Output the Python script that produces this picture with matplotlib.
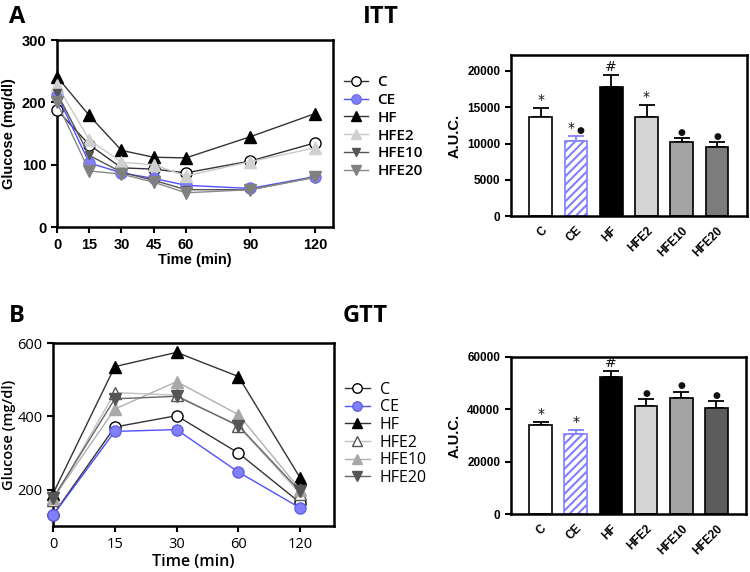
import matplotlib
matplotlib.use("Agg")
from matplotlib import pyplot as plt
import numpy as np

# ITT curves
itt_time = [0, 15, 30, 45, 60, 90, 120]
itt_c = [188, 132, 95, 93, 87, 106, 135]
itt_ce = [212, 103, 87, 78, 67, 62, 81]
itt_hf = [241, 179, 123, 112, 111, 145, 182]
itt_hfe2 = [228, 140, 104, 100, 82, 105, 127]
itt_hfe10 = [215, 115, 88, 75, 60, 60, 80]
itt_hfe20 = [200, 90, 85, 72, 55, 60, 80]

# GTT curves
gtt_time = ['0', '15', '30', '60', '120']
gtt_c = [131, 371, 402, 300, 164]
gtt_ce = [130, 359, 364, 248, 150]
gtt_hf = [189, 536, 575, 509, 232]
gtt_hfe2 = [171, 465, 458, 373, 189]
gtt_hfe10 = [176, 420, 495, 405, 200]
gtt_hfe20 = [176, 448, 455, 375, 195]

# AUC bars
groups = ['C', 'CE', 'HF', 'HFE2', 'HFE10', 'HFE20']
itt_auc = [13700, 10390, 17840, 13700, 10160, 9470]
itt_err = [1240, 690, 1600, 1560, 640, 740]
itt_marks = ['*', '*\u25CF', '#', '*', '\u25CF', '\u25CF']
gtt_auc = [34120, 30440, 52390, 41230, 44150, 40470]
gtt_err = [1020, 1650, 2280, 2790, 2660, 2790]
gtt_marks = ['*', '*', '#', '\u25CF', '\u25CF', '\u25CF']

BLUE = '#8080ff'
BOLD = dict(family='Liberation Sans', weight='bold')

fig = plt.figure(figsize=(7.5, 5.72), dpi=100)


def style_axes(ax, size=10, bold=True):
    for s in ax.spines.values():
        s.set_linewidth(1.8)
    ax.tick_params(width=1.5, length=4, labelsize=size)
    for lab in ax.get_xticklabels() + ax.get_yticklabels():
        lab.set_family('Liberation Sans')
        if bold:
            lab.set_weight('bold')


def line_panel(ax, x, series, styles):
    for name, y in series:
        st = styles[name]
        ax.plot(x, y, color=st['lc'], lw=1.0, marker=st['m'], ms=st['ms'],
                mfc=st['fc'], mec=st['ec'], mew=1.0, label=name, clip_on=False, zorder=3)


# ---- ITT line chart
ax1 = fig.add_axes([0.076, 0.603, 0.368, 0.327])
itt_styles = {
    'C': dict(lc='#333333', m='o', ms=8, fc='white', ec='black'),
    'CE': dict(lc='#5050ff', m='o', ms=8, fc=BLUE, ec='#7070ee'),
    'HF': dict(lc='#333333', m='^', ms=8, fc='black', ec='black'),
    'HFE2': dict(lc='#c8c8c8', m='^', ms=8, fc='#d0d0d0', ec='#d0d0d0'),
    'HFE10': dict(lc='#555555', m='v', ms=6, fc='#555555', ec='#555555'),
    'HFE20': dict(lc='#888888', m='v', ms=8, fc='#808080', ec='#808080'),
}
line_panel(ax1, itt_time,
           [('C', itt_c), ('CE', itt_ce), ('HF', itt_hf), ('HFE2', itt_hfe2),
            ('HFE10', itt_hfe10), ('HFE20', itt_hfe20)], itt_styles)
ax1.set_xlim(0, 128.4)
ax1.set_ylim(0, 300)
ax1.set_xticks(itt_time)
ax1.set_yticks([0, 100, 200, 300])
style_axes(ax1, 10.5)
ax1.set_xlabel('Time (min)', fontsize=10.5, labelpad=1, **BOLD)
ax1.set_ylabel('Glucose (mg/dl)', fontsize=10.5, labelpad=4, **BOLD)
ax1.legend(loc='upper left', bbox_to_anchor=(1.0, 0.87), frameon=False,
           prop=dict(family='Open Sans', weight='semibold', size=11), markerscale=0.85,
           handlelength=1.6, handletextpad=0.6, labelspacing=0.25, borderaxespad=0.3)

# ---- GTT line chart
ax3 = fig.add_axes([0.0707, 0.080, 0.374, 0.320])
gtt_styles = {
    'C': dict(lc='#333333', m='o', ms=8, fc='white', ec='black'),
    'CE': dict(lc='#5050ff', m='o', ms=8, fc=BLUE, ec='#6060dd'),
    'HF': dict(lc='#333333', m='^', ms=8, fc='black', ec='black'),
    'HFE2': dict(lc='#c0c0c0', m='^', ms=8, fc='white', ec='#555555'),
    'HFE10': dict(lc='#b0b0b0', m='^', ms=8, fc='#a8a8a8', ec='#a8a8a8'),
    'HFE20': dict(lc='#666666', m='v', ms=8, fc='#555555', ec='#555555'),
}
gx = np.arange(len(gtt_time))
line_panel(ax3, gx,
           [('C', gtt_c), ('CE', gtt_ce), ('HF', gtt_hf), ('HFE2', gtt_hfe2),
            ('HFE10', gtt_hfe10), ('HFE20', gtt_hfe20)], gtt_styles)
ax3.set_xlim(0, 4.54)
ax3.set_ylim(100, 600)
ax3.set_xticks(gx)
ax3.set_xticklabels(gtt_time)
ax3.set_yticks([200, 400, 600])
style_axes(ax3, 10.5, bold=False)
for lab in ax3.get_xticklabels() + ax3.get_yticklabels():
    lab.set_family('Open Sans')
ax3.set_xlabel('Time (min)', fontsize=11.5, labelpad=2, family='Open Sans', weight='semibold')
ax3.set_ylabel('Glucose (mg/dl)', fontsize=10.5, labelpad=1, family='Open Sans', weight='semibold')
ax3.legend(loc='upper left', bbox_to_anchor=(1.0, 0.85), frameon=False,
           prop=dict(family='Open Sans', size=11.5), markerscale=0.85,
           handlelength=1.6, handletextpad=0.6, labelspacing=0.1, borderaxespad=0.3)


# ---- AUC bars
def put_mark(ax, x, y, mark):
    # '*' and '#' drawn larger than the small filled dot
    parts = list(mark)
    offs = [0.0] if len(parts) == 1 else [-0.13, 0.13]
    for p, dx in zip(parts, offs):
        size = 6.5 if p == '\u25CF' else 10
        ax.text(x + dx, y, p, ha='center', va='bottom', fontsize=size,
                family='DejaVu Sans', color='#111111')


def bar_panel(ax, vals, errs, marks, colors, ymax, yticks, off):
    x = np.arange(len(groups))
    for i in range(len(groups)):
        if groups[i] == 'CE':
            ax.bar(x[i], vals[i], 0.65, color='white', edgecolor=BLUE, hatch='////',
                   linewidth=1.2, zorder=2)
            ecol = BLUE
        else:
            ax.bar(x[i], vals[i], 0.65, color=colors[i], edgecolor='black',
                   linewidth=1.2, zorder=2)
            ecol = 'black'
        ax.errorbar(x[i], vals[i], yerr=[[0], [errs[i]]], fmt='none', ecolor=ecol,
                    elinewidth=1.3, capsize=6, capthick=1.3, zorder=1)
        put_mark(ax, x[i], vals[i] + errs[i] + off, marks[i])
    ax.set_xlim(-0.85, 5.85)
    ax.set_ylim(0, ymax)
    ax.set_yticks(yticks)
    ax.set_xticks(x)
    ax.set_xticklabels(groups, rotation=45, ha='right', rotation_mode='anchor')
    style_axes(ax, 8.5)
    ax.tick_params(axis='x', length=0, pad=6)
    ax.set_ylabel('A.U.C.', fontsize=10.5, labelpad=4, **BOLD)


plt.rcParams['hatch.linewidth'] = 1.5
plt.rcParams['hatch.color'] = BLUE
ax2 = fig.add_axes([0.681, 0.622, 0.315, 0.282])
bar_panel(ax2, itt_auc, itt_err, itt_marks,
          ['white', BLUE, 'black', '#d4d4d4', '#a4a4a4', '#7c7c7c'],
          22200, [0, 5000, 10000, 15000, 20000], 150)

ax4 = fig.add_axes([0.681, 0.101, 0.314, 0.275])
bar_panel(ax4, gtt_auc, gtt_err, gtt_marks,
          ['white', BLUE, 'black', '#d4d4d4', '#a4a4a4', '#5c5c5c'],
          60000, [0, 20000, 40000, 60000], 400)

# panel letters and titles
fig.text(0.012, 0.971, 'A', fontsize=17, family='Open Sans', weight='bold', va='center')
fig.text(0.484, 0.971, 'ITT', fontsize=17, family='Open Sans', weight='bold', va='center')
fig.text(0.012, 0.448, 'B', fontsize=17, family='Open Sans', weight='bold', va='center')
fig.text(0.457, 0.448, 'GTT', fontsize=17, family='Open Sans', weight='bold', va='center')

fig.savefig('out.png', dpi=100)
